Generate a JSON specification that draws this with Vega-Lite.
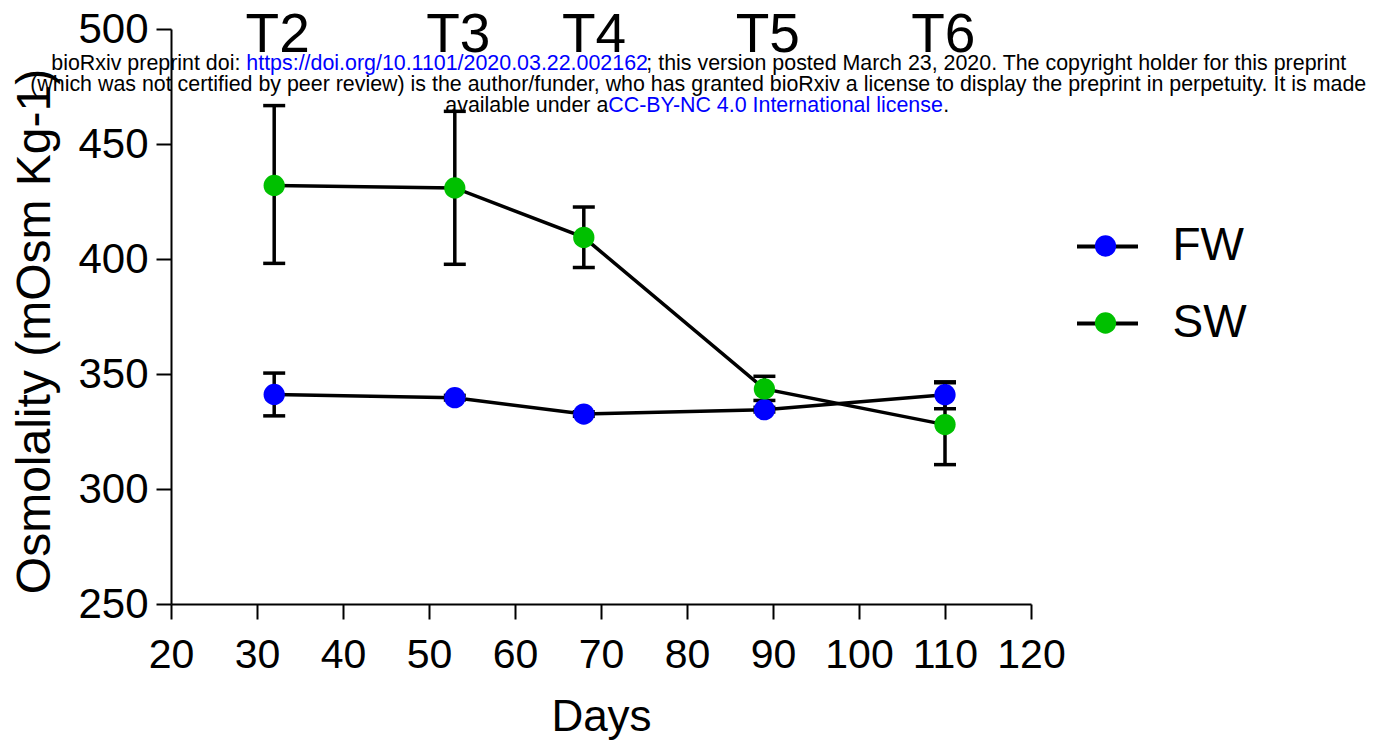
{
  "$schema": "https://vega.github.io/schema/vega-lite/v6.json",
  "autosize": "none",
  "width": 860,
  "height": 575,
  "padding": {"left": 171, "top": 29, "right": 354, "bottom": 149},
  "background": "white",
  "config": {
    "font": "Liberation Sans",
    "view": {"stroke": null},
    "axis": {"grid": false, "domainColor": "black", "domainWidth": 2, "tickColor": "black", "tickWidth": 2, "tickSize": 15, "labelColor": "black", "titleColor": "black", "labelFont": "Liberation Sans", "titleFont": "Liberation Sans", "titleFontWeight": "normal"},
    "legend": {"labelFont": "Liberation Sans"}
  },
  "datasets": {
    "osm": [
      {"day": 32, "series": "FW", "mean": 341.1, "lo": 331.8, "hi": 350.4},
      {"day": 53, "series": "FW", "mean": 339.7, "lo": 338.7, "hi": 340.7},
      {"day": 68, "series": "FW", "mean": 332.6, "lo": 331.6, "hi": 333.6},
      {"day": 89, "series": "FW", "mean": 334.5, "lo": 333.5, "hi": 335.5},
      {"day": 110, "series": "FW", "mean": 341.0, "lo": 334.9, "hi": 346.6},
      {"day": 32, "series": "SW", "mean": 432.0, "lo": 398.1, "hi": 466.7},
      {"day": 53, "series": "SW", "mean": 430.9, "lo": 397.7, "hi": 464.2},
      {"day": 68, "series": "SW", "mean": 409.4, "lo": 396.3, "hi": 422.6},
      {"day": 89, "series": "SW", "mean": 343.5, "lo": 338.5, "hi": 349.0},
      {"day": 110, "series": "SW", "mean": 328.0, "lo": 310.6, "hi": 346.2}
    ],
    "phases": [
      {"day": 32.4, "phase": "T2"},
      {"day": 53.4, "phase": "T3"},
      {"day": 69.2, "phase": "T4"},
      {"day": 89.4, "phase": "T5"},
      {"day": 109.8, "phase": "T6"}
    ]
  },
  "data": {"name": "osm"},
  "encoding": {
    "x": {"type": "quantitative", "scale": {"domain": [20, 120], "nice": false, "zero": false},
      "axis": {"values": [20, 30, 40, 50, 60, 70, 80, 90, 100, 110, 120], "title": "Days", "labelFontSize": 41, "titleFontSize": 44, "labelPadding": 16, "titlePadding": 20, "labelFlush": false}},
    "y": {"type": "quantitative", "scale": {"domain": [250, 500], "nice": false, "zero": false},
      "axis": {"values": [250, 300, 350, 400, 450, 500], "title": "Osmolality (mOsm Kg-1)", "labelFontSize": 42, "titleFontSize": 48, "labelPadding": 8, "titlePadding": 18, "titleY": 302}}
  },
  "layer": [
    {
      "mark": {"type": "line", "strokeWidth": 3.5, "clip": false},
      "encoding": {
        "x": {"field": "day"},
        "y": {"field": "mean"},
        "color": {"field": "series", "type": "nominal", "scale": {"domain": ["FW", "SW"], "range": ["black", "black"]},
          "legend": {"orient": "none", "legendX": 904, "legendY": 185, "title": null, "symbolType": "stroke", "symbolSize": 3721, "symbolStrokeWidth": 4, "labelFontSize": 46, "labelOpacity": 0, "rowPadding": 21, "labelOffset": 20}}
      }
    },
    {
      "mark": {"type": "rule", "color": "black", "strokeWidth": 3.5},
      "encoding": {"x": {"field": "day"}, "y": {"field": "lo"}, "y2": {"field": "hi"}}
    },
    {
      "mark": {"type": "tick", "orient": "horizontal", "color": "black", "opacity": 1, "size": 22, "thickness": 3.5},
      "encoding": {"x": {"field": "day"}, "y": {"field": "lo"}}
    },
    {
      "mark": {"type": "tick", "orient": "horizontal", "color": "black", "opacity": 1, "size": 22, "thickness": 3.5},
      "encoding": {"x": {"field": "day"}, "y": {"field": "hi"}}
    },
    {
      "mark": {"type": "point", "shape": "circle", "filled": true, "size": 452, "opacity": 1, "strokeWidth": 0},
      "encoding": {
        "x": {"field": "day"},
        "y": {"field": "mean"},
        "fill": {"field": "series", "type": "nominal", "scale": {"range": ["#0000FF", "#00C000"]},
          "legend": {"orient": "none", "legendX": 911.5, "legendY": 194, "title": null, "symbolType": "circle", "symbolSize": 452, "symbolStrokeWidth": 0, "symbolOpacity": 1, "labelFontSize": 46, "labelColor": "black", "rowPadding": 31, "labelOffset": 44}}
      }
    },
    {
      "data": {"name": "phases"},
      "mark": {"type": "text", "fontSize": 55, "align": "center", "baseline": "alphabetic", "dy": 23, "color": "black", "clip": false},
      "encoding": {"x": {"field": "day"}, "y": {"datum": 500}, "text": {"field": "phase"}}
    },
    {
      "data": {"values": [{}]},
      "mark": {"type": "text", "fontSize": 21.4, "align": "right", "baseline": "alphabetic", "color": "black", "dx": -6},
      "encoding": {"x": {"datum": 28.76}, "y": {"datum": 482.3}, "text": {"value": "bioRxiv preprint doi:"}}
    },
    {
      "data": {"values": [{}]},
      "mark": {"type": "text", "fontSize": 21.4, "align": "left", "baseline": "alphabetic", "color": "#0000FF"},
      "encoding": {"x": {"datum": 28.76}, "y": {"datum": 482.3}, "text": {"value": "https://doi.org/10.1101/2020.03.22.002162"}}
    },
    {
      "data": {"values": [{}]},
      "mark": {"type": "text", "fontSize": 21.4, "align": "left", "baseline": "alphabetic", "color": "black"},
      "encoding": {"x": {"datum": 75.27}, "y": {"datum": 482.3}, "text": {"value": "; this version posted March 23, 2020. The copyright holder for this preprint"}}
    },
    {
      "data": {"values": [{}]},
      "mark": {"type": "text", "fontSize": 21.4, "align": "center", "baseline": "alphabetic", "color": "black"},
      "encoding": {"x": {"datum": 81.3}, "y": {"datum": 472.9}, "text": {"value": "(which was not certified by peer review) is the author/funder, who has granted bioRxiv a license to display the preprint in perpetuity. It is made"}}
    },
    {
      "data": {"values": [{}]},
      "mark": {"type": "text", "fontSize": 21.4, "align": "right", "baseline": "alphabetic", "color": "black"},
      "encoding": {"x": {"datum": 70.85}, "y": {"datum": 463.7}, "text": {"value": "available under a"}}
    },
    {
      "data": {"values": [{}]},
      "mark": {"type": "text", "fontSize": 21.4, "align": "left", "baseline": "alphabetic", "color": "#0000FF"},
      "encoding": {"x": {"datum": 70.85}, "y": {"datum": 463.7}, "text": {"value": "CC-BY-NC 4.0 International license"}}
    },
    {
      "data": {"values": [{}]},
      "mark": {"type": "text", "fontSize": 21.4, "align": "left", "baseline": "alphabetic", "color": "black"},
      "encoding": {"x": {"datum": 109.8}, "y": {"datum": 463.7}, "text": {"value": "."}}
    }
  ]
}
